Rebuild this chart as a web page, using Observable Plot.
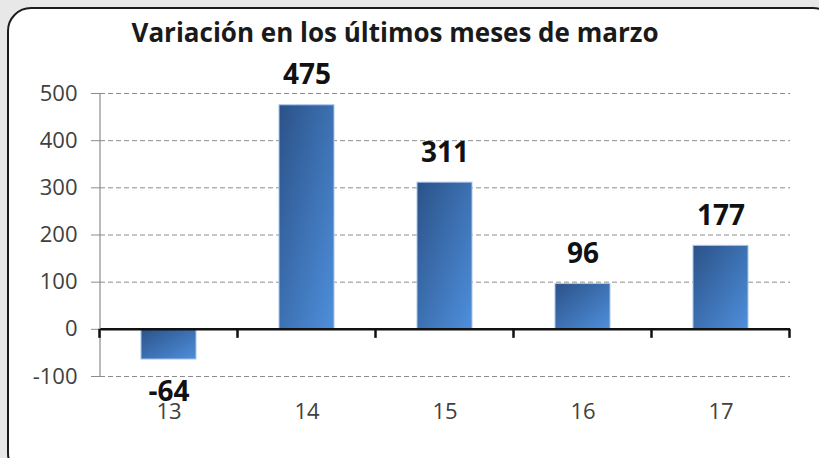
<!DOCTYPE html>
<html><head><meta charset="utf-8">
<script src="https://cdn.jsdelivr.net/npm/d3@7"></script>
<script src="https://cdn.jsdelivr.net/npm/@observablehq/plot@0.6"></script>
<style>
body{margin:0;background:#e8e8e8;}
#wrap{position:relative;width:819px;height:458px;overflow:hidden;background:#e8e8e8;font-family:"Open Sans",sans-serif;}
#box{position:absolute;left:7px;top:7px;width:830px;height:470px;border:2.5px solid #1c1c1c;border-radius:24px;background:#fff;box-sizing:border-box;}
#title{position:absolute;left:0;top:15px;width:790px;text-align:center;font-weight:700;font-size:26px;line-height:34px;color:#1a1a1a;}
#chart{position:absolute;left:0;top:0;}
</style></head><body>
<div id="wrap"><div id="box"></div><div id="title">Variación en los últimos meses de marzo</div><div id="chart"></div></div>
<script>
const categories = ["13", "14", "15", "16", "17"];
const values = [-64, 475, 311, 96, 177];
const yTicks = [-100, 0, 100, 200, 300, 400, 500];
const gridTicks = [-100, 100, 200, 300, 400, 500];
const data = categories.map((c, i) => ({cat: c, value: values[i]}));

function xAxisDecor(index, scales, values, dimensions) {
  const x = scales.x, y = scales.y;
  const step = x(categories[1]) - x(categories[0]);
  const bw = x.bandwidth ? x.bandwidth() : step * 0.4;
  const g = d3.create("svg:g");
  g.append("line")
    .attr("x1", dimensions.marginLeft).attr("x2", dimensions.marginLeft)
    .attr("y1", y(d3.max(yTicks))).attr("y2", y(d3.min(yTicks)))
    .attr("stroke", "#8c8c8c").attr("stroke-width", 1.2);
  const bounds = categories.map(c => x(c) - (step - bw) / 2);
  bounds.push(x(categories[categories.length - 1]) + bw + (step - bw) / 2);
  const y0 = y(0);
  g.selectAll("line.t").data(bounds).join("line")
    .attr("x1", d => d).attr("x2", d => d)
    .attr("y1", y0).attr("y2", y0 + 9)
    .attr("stroke", "#111").attr("stroke-width", 2.5);
  return g.node();
}

const chart = Plot.plot({
  width: 819, height: 458,
  marginLeft: 100, marginRight: 29, marginTop: 93, marginBottom: 82,
  style: {background: "transparent", fontFamily: '"Open Sans", sans-serif', overflow: "visible"},
  x: {domain: categories, paddingInner: 0.6, paddingOuter: 0.3, label: null},
  y: {domain: [-100, 500], label: null},
  marks: [
    Plot.ruleY(gridTicks, {stroke: "#8c8c8c", strokeDasharray: "5,3", strokeWidth: 1}),
    Plot.axisY({ticks: yTicks, tickFormat: d => String(d), tickSize: 9, tickPadding: 14, fontSize: 22, stroke: "#8c8c8c", fill: "#404040", label: null}),
    Plot.axisX({tickSize: 0, tickPadding: 27, fontSize: 22, fill: "#404040", label: null}),
    Plot.barY(data, {x: "cat", y: "value", fill: "url(#barGrad)", stroke: "#a9c6ea", strokeWidth: 1}),
    Plot.ruleY([0], {stroke: "#111", strokeWidth: 2.5}),
    xAxisDecor,
    Plot.text(data.filter(d => d.value >= 0), {x: "cat", y: "value", text: d => String(d.value), dy: -30, fontSize: 28, fontWeight: "bold", fill: "#111"}),
    Plot.text(data.filter(d => d.value < 0), {x: "cat", y: "value", text: d => String(d.value), dy: 33, fontSize: 28, fontWeight: "bold", fill: "#111"})
  ]
});

const defs = d3.select(chart).insert("defs", ":first-child");
const grad = defs.append("linearGradient").attr("id", "barGrad")
  .attr("x1", "0").attr("y1", "0").attr("x2", "1").attr("y2", "1");
grad.append("stop").attr("offset", "0%").attr("stop-color", "#2b5288");
grad.append("stop").attr("offset", "100%").attr("stop-color", "#4e8fdc");

document.getElementById("chart").appendChild(chart);
</script>
</body></html>
